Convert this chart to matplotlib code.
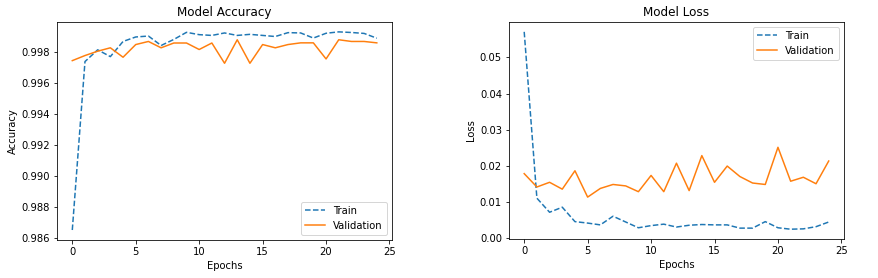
import numpy as np
import matplotlib
matplotlib.use("Agg")
import matplotlib.pyplot as plt

# values
epochs = list(range(25))

train_acc = [0.98650, 0.99739, 0.99815, 0.99771, 0.99869, 0.99898, 0.99904, 0.99843,
             0.99882, 0.99928, 0.99913, 0.99908, 0.99924, 0.99908, 0.99915, 0.99908,
             0.99901, 0.99926, 0.99924, 0.99891, 0.99922, 0.99931, 0.99927, 0.99921,
             0.99890]
val_acc = [0.99745, 0.99778, 0.99806, 0.99828, 0.99767, 0.99849, 0.99869, 0.99828,
           0.99859, 0.99859, 0.99817, 0.99859, 0.99728, 0.99880, 0.99728, 0.99849,
           0.99828, 0.99849, 0.99860, 0.99860, 0.99756, 0.99880, 0.99869, 0.99869,
           0.99860]

train_loss = [0.0571, 0.0110, 0.0071, 0.0085, 0.0045, 0.0041, 0.0036, 0.0060,
              0.0044, 0.0028, 0.0034, 0.0038, 0.0030, 0.0035, 0.0037, 0.0036,
              0.0036, 0.0027, 0.0027, 0.0045, 0.0028, 0.0024, 0.0025, 0.0031,
              0.0044]
val_loss = [0.0178, 0.0141, 0.0154, 0.0135, 0.0186, 0.0113, 0.0137, 0.0148,
            0.0144, 0.0128, 0.0173, 0.0128, 0.0207, 0.0131, 0.0228, 0.0154,
            0.0199, 0.0170, 0.0152, 0.0148, 0.0251, 0.0157, 0.0168, 0.0150,
            0.0213]

fig = plt.figure(figsize=(878/72, 278/72), dpi=72)
ax1 = fig.add_axes([0.065, 0.137, 0.3815, 0.784])
ax2 = fig.add_axes([0.5797, 0.14, 0.3815, 0.781])

# accuracy
ax1.plot(epochs, train_acc, '--', label='Train')
ax1.plot(epochs, val_acc, label='Validation')
ax1.set_title('Model Accuracy')
ax1.set_xlabel('Epochs')
ax1.set_ylabel('Accuracy')
ax1.legend(loc='lower right')

# loss
ax2.plot(epochs, train_loss, '--', label='Train')
ax2.plot(epochs, val_loss, label='Validation')
ax2.set_title('Model Loss')
ax2.set_xlabel('Epochs')
ax2.set_ylabel('Loss')
ax2.legend(loc='upper right')

fig.savefig('out.png', dpi=72, facecolor='white')
